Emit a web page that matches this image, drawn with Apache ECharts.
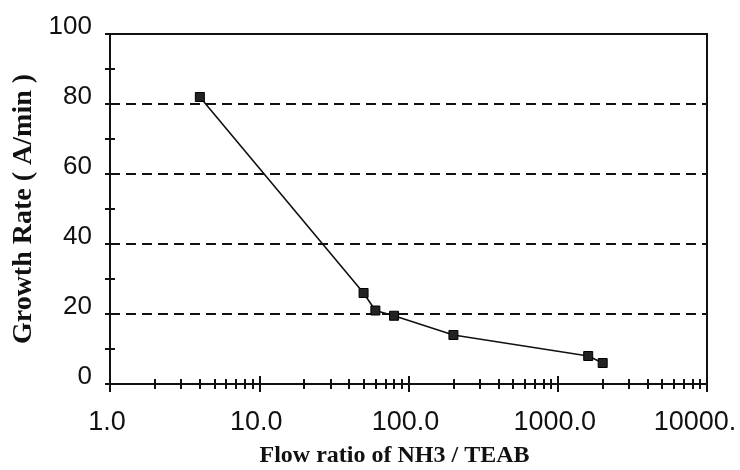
<!DOCTYPE html>
<html>
<head>
<meta charset="utf-8">
<script src="https://cdn.jsdelivr.net/npm/echarts@6/dist/echarts.min.js"></script>
<style>
  html, body { margin: 0; padding: 0; background: #fff; }
  #chart { width: 740px; height: 470px; }
</style>
</head>
<body>
<div id="chart"></div>
<script>
// Flow ratio NH3/TEAB vs. growth rate
const flowRatio = [4, 50, 60, 80, 200, 1600, 2000];
const growthRate = [82, 26, 21, 19.5, 14, 8, 6];

// Log-axis decade ticks and their printed labels
const xTickValues = [1, 10, 100, 1000, 10000];
const xTickLabels = ['1.0', '10.0', '100.0', '1000.0', '10000.'];
// Intermediate ticks 2..9 within each decade
const xMinorValues = [2, 3, 4, 5, 6, 7, 8, 9, 20, 30, 40, 50, 60, 70, 80, 90,
  200, 300, 400, 500, 600, 700, 800, 900, 2000, 3000, 4000, 5000, 6000, 7000, 8000, 9000];

const xTitle = 'Flow ratio of NH3 / TEAB';
const yTitle = 'Growth Rate ( A/min )';

const ink = '#111';
const labelFont = 'Liberation Sans, Arial, sans-serif';
const titleFont = 'Liberation Serif, Times New Roman, serif';

// Several grids share one plot rectangle; the extra ones only carry tick marks.
// Ticks that cross the axis are made from an outward set plus a set drawn on an
// axis pulled inward by the tick length (negative offset).
const plotRect = { left: 110, right: 33, top: 34, bottom: 86, outerBoundsMode: 'none', containLabel: false };
const grids = [0, 1, 2, 3].map(i => Object.assign({
  show: i === 0, borderColor: ink, borderWidth: 2, backgroundColor: 'transparent'
}, plotRect));

const tickLine = { color: ink, width: 2 };
const clearLine = { show: true, lineStyle: { color: 'rgba(0,0,0,0)', width: 1 } };

function tickX(gridIndex, values, length, offset) {
  return {
    type: 'log', logBase: 10, min: 1, max: 10000, gridIndex: gridIndex, position: 'bottom', offset: offset,
    axisLine: clearLine,
    axisTick: { show: true, inside: false, length: length, customValues: values, lineStyle: tickLine },
    axisLabel: { show: false }, splitLine: { show: false }
  };
}
function tickY(gridIndex, offset, shown) {
  return {
    type: 'value', min: 0, max: 100, interval: 20, gridIndex: gridIndex, position: 'left', offset: offset, show: shown,
    axisLine: clearLine,
    axisTick: { show: true, inside: false, length: 5, lineStyle: tickLine },
    minorTick: { show: true, splitNumber: 2, length: 5, lineStyle: tickLine },
    axisLabel: { show: false }, splitLine: { show: false }
  };
}

const mainX = tickX(0, xTickValues, 8, 0);
mainX.axisLine = { show: true, lineStyle: { color: ink, width: 2 } };
mainX.axisLabel = {
  show: true, customValues: xTickValues, margin: 25,
  formatter: function (v) {
    const i = Math.round(Math.log10(v));
    return (i === xTickLabels.length - 1 ? '{last|' : '{n|') + xTickLabels[i] + '}';
  },
  rich: {
    n: { fontFamily: labelFont, fontSize: 27, color: ink, padding: [0, 6, 0, 0] },
    last: { fontFamily: labelFont, fontSize: 27, color: ink, padding: [0, 24, 0, 0] }
  }
};
mainX.name = xTitle;
mainX.nameLocation = 'middle';
mainX.nameGap = 60;
mainX.nameTextStyle = { fontFamily: titleFont, fontWeight: 'bold', fontSize: 24, color: ink, padding: [0, 28, 0, 0] };

const mainY = tickY(0, 0, true);
mainY.axisLine = { show: true, lineStyle: { color: ink, width: 2 } };
mainY.axisLabel = {
  show: true, margin: 18,
  formatter: function (v) { return '{v|' + v + '}'; },
  rich: { v: { fontFamily: labelFont, fontSize: 26, color: ink, padding: [0, 0, 14, 0] } }
};
mainY.splitLine = { show: true, lineStyle: { color: ink, width: 2, type: [10, 6] } };
mainY.name = yTitle;
mainY.nameLocation = 'middle';
mainY.nameGap = 72;
mainY.nameTextStyle = { fontFamily: titleFont, fontWeight: 'bold', fontSize: 28, color: ink };

const chart = echarts.init(document.getElementById('chart'), null, { renderer: 'canvas' });
chart.setOption({
  animation: false,
  backgroundColor: '#fff',
  grid: grids,
  xAxis: [
    mainX,
    tickX(1, xTickValues, 8, -8),
    tickX(2, xMinorValues, 5, 0),
    tickX(3, xMinorValues, 5, -5)
  ],
  yAxis: [
    mainY,
    tickY(1, -5, true),
    tickY(2, 0, false),
    tickY(3, 0, false)
  ],
  series: [{
    type: 'line',
    xAxisIndex: 0, yAxisIndex: 0,
    data: flowRatio.map((x, i) => [x, growthRate[i]]),
    symbol: 'rect', symbolSize: 9,
    itemStyle: { color: '#222', borderColor: '#000', borderWidth: 1 },
    lineStyle: { color: ink, width: 1.6 },
    z: 5
  }]
});
</script>
</body>
</html>
